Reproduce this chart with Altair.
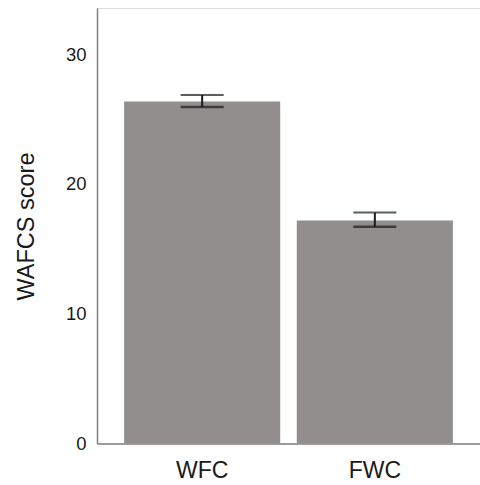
import altair as alt
import pandas as pd

categories = ["WFC", "FWC"]
means = [26.35, 17.18]
ci_low = [25.92, 16.69]
ci_high = [26.85, 17.79]

df = pd.DataFrame({"group": categories, "mean": means, "lo": ci_low, "hi": ci_high})

FONT = "Liberation Sans"

x_enc = alt.X(
    "group:N",
    sort=categories,
    scale=alt.Scale(paddingInner=0.096, paddingOuter=0.157),
    axis=alt.Axis(
        title=None, labelAngle=0, ticks=False, labelPadding=16,
        labelFontSize=23, labelFont=FONT, labelColor="#1a1a1a",
        domainColor="#7f7f7f", domainWidth=1.5,
    ),
)
y_scale = alt.Scale(domain=[0, 33.55], nice=False)

bars = alt.Chart(df).mark_bar(color="#928e8d").encode(
    x=x_enc,
    y=alt.Y(
        "mean:Q",
        scale=y_scale,
        axis=alt.Axis(
            title="WAFCS score", values=[0, 10, 20, 30], grid=False, ticks=False,
            labelPadding=11, labelFontSize=18.5, labelFont=FONT, labelColor="#1a1a1a",
            titleFontSize=23.5, titleFont=FONT, titleFontWeight="normal", titleColor="#1a1a1a",
            titleX=-64, titleY=218, titleBaseline="alphabetic",
            domainColor="#7f7f7f", domainWidth=1.5,
        ),
    ),
)

rules = alt.Chart(df).mark_rule(color="#1a1a1a", strokeWidth=2).encode(
    x=alt.X("group:N", sort=categories),
    y=alt.Y("lo:Q", scale=y_scale),
    y2="hi:Q",
)
caps_hi = alt.Chart(df).mark_tick(color="#1a1a1a", size=43, thickness=2).encode(
    x=alt.X("group:N", sort=categories),
    y=alt.Y("hi:Q", scale=y_scale),
)
caps_lo = alt.Chart(df).mark_tick(color="#1a1a1a", size=43, thickness=2.5).encode(
    x=alt.X("group:N", sort=categories),
    y=alt.Y("lo:Q", scale=y_scale),
)

chart = alt.layer(bars, rules, caps_hi, caps_lo).properties(
    width=383, height=435.5,
    autosize=alt.AutoSizeParams(type="none"),
    padding={"left": 97, "top": 8, "right": 0, "bottom": 41.5},
).configure_view(stroke=None).configure(background="white")

chart.save("out.html", embed_options={"renderer": "svg", "actions": False})
